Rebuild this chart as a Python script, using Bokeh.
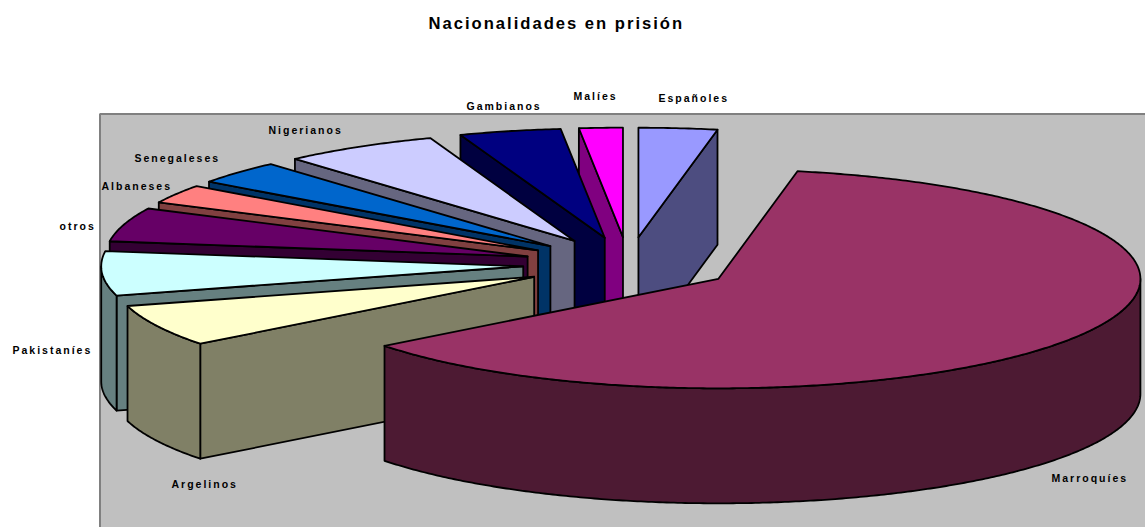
import numpy as np
from bokeh.plotting import figure
from bokeh.models import Range1d
from bokeh.core.properties import value
from bokeh.embed import file_html
from bokeh.resources import INLINE

# Slices, clockwise from 12 o'clock, as degrees of the pie
names = ["Españoles", "Marroquíes", "Argelinos", "Pakistaníes", "otros",
         "Albaneses", "Senegaleses", "Nigerianos", "Gambianos", "Malíes"]
values = [10.8, 221.5, 22.2, 23.5, 18.0, 10.0, 12.5, 21.5, 14.0, 6.0]
top_colors = ["#9999FF", "#993366", "#FFFFCC", "#CCFFFF", "#660066",
              "#FF8080", "#0066CC", "#CCCCFF", "#000080", "#FF00FF"]
wall_colors = ["#4D4D80", "#4D1A33", "#808066", "#668080", "#330033",
               "#804040", "#003366", "#666680", "#000040", "#800080"]
title = "Nacionalidades en prisión"

# Layout
W, H = 1145, 527
X0, Y0 = 0, 0
CX, CY, RX, RY, DEPTH, EXPLODE = 628, 264, 422, 109.5, 115, 0.25
label_x = dict(zip(names, [658, 1051, 171, 12, 59, 101, 134, 268, 466, 573]))
label_y = dict(zip(names, [97, 477, 483, 349, 225, 185, 157, 129, 105, 95]))
draw_order = ["Españoles", "Malíes", "Gambianos", "Nigerianos", "Senegaleses",
              "Albaneses", "otros", "Pakistaníes", "Argelinos", "Marroquíes"]

p = figure(width=W, height=H, output_backend="svg", toolbar_location=None,
           x_range=Range1d(X0, X0 + W), y_range=Range1d(Y0 + H, Y0),
           min_border=0, outline_line_color=None)
p.axis.visible = False
p.grid.visible = False
p.background_fill_color = "white"
p.styles = {"letter-spacing": "2px"}

p.quad(left=[99.5], right=[1300], top=[113.5], bottom=[700],
       fill_color="#C0C0C0", line_color="#808080", line_width=2)


def pt(ang, cx, cy, r=1.0):
    a = np.radians(ang)
    return cx + r * RX * np.sin(a), cy - r * RY * np.cos(a)


ends = np.cumsum(values)
starts = ends - np.array(values)
spans = {n: (s, e) for n, s, e in zip(names, starts, ends)}
tops = dict(zip(names, top_colors))
walls = dict(zip(names, wall_colors))


def patch(xs, ys, color):
    p.patch(list(xs), list(ys), fill_color=color, line_color="black",
            line_width=1.8, line_join="round")


for n in draw_order:
    a, b = spans[n]
    mid = np.radians((a + b) / 2)
    cx = CX + EXPLODE * RX * np.sin(mid)
    cy = CY - EXPLODE * RY * np.cos(mid)
    angs = np.linspace(a, b, max(int(b - a) * 2, 4))
    ax, ay = pt(a, cx, cy)
    bx, by = pt(b, cx, cy)
    if np.sin(np.radians(a)) < 0:
        patch([cx, ax, ax, cx], [cy, ay, ay + DEPTH, cy + DEPTH], walls[n])
    if np.sin(np.radians(b)) > 0:
        patch([cx, bx, bx, cx], [cy, by, by + DEPTH, cy + DEPTH], walls[n])
    lo, hi = max(a, 90), min(b, 270)
    if hi > lo:
        r = np.linspace(lo, hi, max(int(hi - lo) * 2, 4))
        rx, ry = pt(r, cx, cy)
        patch(np.r_[rx, rx[::-1]], np.r_[ry, ry[::-1] + DEPTH], walls[n])
    tx, ty = pt(angs, cx, cy)
    patch(np.r_[cx, tx], np.r_[cy, ty], tops[n])

p.text(x=[label_x[n] for n in names], y=[label_y[n] for n in names], text=names,
       text_font=value("Liberation Sans"), text_font_size="10.5px",
       text_font_style="bold", text_color="black",
       text_align="left", text_baseline="middle")
p.text(x=[428], y=[23], text=[title], text_font=value("Liberation Sans"),
       text_font_size="16.6px", text_font_style="bold", text_color="black",
       text_align="left", text_baseline="middle")

open("out.html", "w").write(file_html(p, INLINE))
